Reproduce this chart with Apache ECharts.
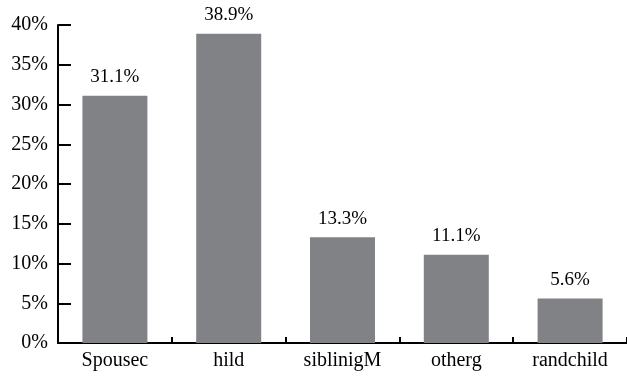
<!DOCTYPE html>
<html>
<head>
<meta charset="utf-8">
<script src="https://cdn.jsdelivr.net/npm/echarts@6/dist/echarts.min.js"></script>
<style>
html, body { margin: 0; padding: 0; background: #fff; }
#main { width: 627px; height: 377px; }
</style>
</head>
<body>
<div id="main"></div>
<script>
// categories as printed under the bars
var categories = ['Spousec', 'hild', 'siblinigM', 'otherg', 'randchild'];
// share of each group, percent
var shares = [31.1, 38.9, 13.3, 11.1, 5.6];
// y axis range
var yMin = 0, yMax = 40, yStep = 5;

var serif = '"Liberation Serif", "DejaVu Serif", serif';

var myChart = echarts.init(document.getElementById('main'));

// ticks point into the plot, so they get a negative length
var option = {
    backgroundColor: '#fff',
    animation: false,
    grid: {
        left: 58,
        top: 25,
        width: 576,
        height: 318
    },
    xAxis: {
        type: 'category',
        data: categories,
        boundaryGap: true,
        axisLine: { show: true, lineStyle: { color: '#000', width: 2 } },
        axisTick: { show: true, inside: false, length: -6, lineStyle: { color: '#000', width: 2 } },
        axisLabel: { color: '#000', fontFamily: serif, fontSize: 20, margin: 8 },
        splitLine: { show: false }
    },
    yAxis: {
        type: 'value',
        min: yMin,
        max: yMax,
        interval: yStep,
        axisLine: { show: true, lineStyle: { color: '#000', width: 2 } },
        axisTick: { show: true, inside: false, length: -13, lineStyle: { color: '#000', width: 2 } },
        axisLabel: {
            color: '#000', fontFamily: serif, fontSize: 20, margin: 10,
            formatter: function (v) { return v + '%'; }
        },
        splitLine: { show: false }
    },
    series: [{
        type: 'bar',
        data: shares,
        barWidth: 65,
        itemStyle: { color: '#818286' },
        label: {
            show: true,
            position: 'top',
            distance: 9,
            color: '#000',
            fontFamily: serif,
            fontSize: 19,
            formatter: function (p) { return p.value.toFixed(1) + '%'; }
        }
    }]
};

myChart.setOption(option);
</script>
</body>
</html>
